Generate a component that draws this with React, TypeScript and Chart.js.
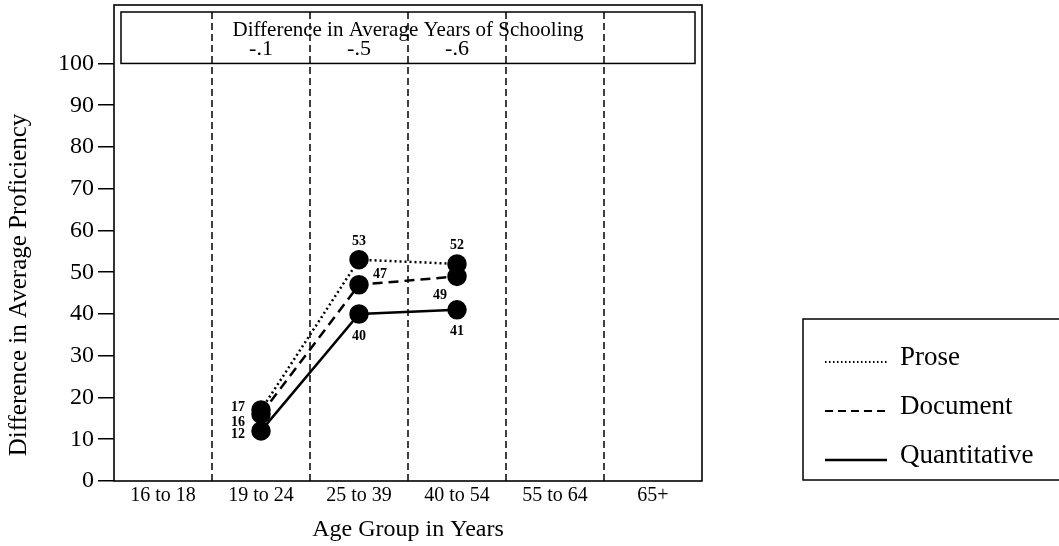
import React, { useEffect, useRef } from "react";
import { Chart, registerables } from "chart.js";

Chart.register(...registerables);

const categories = ["16 to 18", "19 to 24", "25 to 39", "40 to 54", "55 to 64", "65+"];
const prose = [null, 17, 53, 52, null, null];
const documentVals = [null, 16, 47, 49, null, null];
const quantitative = [null, 12, 40, 41, null, null];
const schoolingDiff = ["", "-.1", "-.5", "-.6", "", ""];
const yTickValues = [0, 10, 20, 30, 40, 50, 60, 70, 80, 90, 100];
const seriesNames = ["Prose", "Document", "Quantitative"];

const SERIF = "'Liberation Serif', 'Times New Roman', serif";
const dashes: number[][] = [[2, 3], [10, 6], []];

// label offsets per series and category (style only)
const labelOffsets: Record<string, [number, number, CanvasTextAlign][]> = {
  Prose: [[0, 0, "center"], [-16, -3, "right"], [0, -18, "center"], [0, -18, "center"], [0, 0, "center"], [0, 0, "center"]],
  Document: [[0, 0, "center"], [-16, 8, "right"], [14, -10, "left"], [-10, 19, "right"], [0, 0, "center"], [0, 0, "center"]],
  Quantitative: [[0, 0, "center"], [-16, 3, "right"], [0, 22, "center"], [0, 22, "center"], [0, 0, "center"], [0, 0, "center"]],
};

const decor = {
  id: "decor",
  beforeDatasetsDraw(chart: any) {
    const { ctx, chartArea: a, scales } = chart;
    const x = scales.x;
    const y = scales.y;
    ctx.save();
    ctx.strokeStyle = "#000";
    ctx.lineWidth = 1.5;
    ctx.setLineDash([7, 4]);
    for (let i = 0; i < categories.length - 1; i++) {
      const bx = (x.getPixelForValue(i) + x.getPixelForValue(i + 1)) / 2;
      ctx.beginPath();
      ctx.moveTo(bx, a.top + 7);
      ctx.lineTo(bx, a.bottom);
      ctx.stroke();
    }
    ctx.setLineDash([]);
    ctx.lineWidth = 1.6;
    ctx.strokeRect(a.left, a.top, a.right - a.left, a.bottom - a.top);
    const hb = y.getPixelForValue(100);
    ctx.lineWidth = 1.5;
    ctx.strokeRect(a.left + 7, a.top + 7, a.right - a.left - 14, hb - (a.top + 7));
    ctx.fillStyle = "#000";
    ctx.font = `21px ${SERIF}`;
    ctx.textAlign = "center";
    ctx.textBaseline = "alphabetic";
    ctx.fillText("Difference in Average Years of Schooling", (a.left + a.right) / 2, a.top + 31);
    ctx.font = `22px ${SERIF}`;
    schoolingDiff.forEach((s, i) => {
      if (!s) return;
      ctx.fillText(s, x.getPixelForValue(i), a.top + 50);
    });
    ctx.restore();
  },
  afterDatasetsDraw(chart: any) {
    const { ctx } = chart;
    ctx.save();
    ctx.fillStyle = "#000";
    ctx.font = `bold 14px ${SERIF}`;
    ctx.textBaseline = "middle";
    chart.data.datasets.forEach((ds: any, di: number) => {
      const meta = chart.getDatasetMeta(di);
      ds.data.forEach((v: number | null, i: number) => {
        if (v === null) return;
        const pt = meta.data[i];
        const [dx, dy, al] = labelOffsets[ds.label][i];
        ctx.textAlign = al;
        ctx.fillText(String(v), pt.x + dx, pt.y + dy);
      });
    });
    ctx.restore();
  },
  afterDraw(chart: any) {
    const { ctx } = chart;
    ctx.save();
    // y title
    ctx.fillStyle = "#000";
    ctx.font = `25px ${SERIF}`;
    ctx.translate(19, 285);
    ctx.rotate(-Math.PI / 2);
    ctx.textAlign = "center";
    ctx.textBaseline = "middle";
    ctx.fillText("Difference in Average Proficiency", 0, 0);
    ctx.restore();

    // legend
    ctx.save();
    ctx.strokeStyle = "#000";
    ctx.lineWidth = 1.5;
    ctx.strokeRect(803, 319, 300, 161);
    ctx.font = `27px ${SERIF}`;
    ctx.fillStyle = "#000";
    ctx.textAlign = "left";
    ctx.textBaseline = "middle";
    const ys = [358, 407, 456];
    seriesNames.forEach((n, i) => {
      ctx.lineWidth = i === 2 ? 2.5 : 2;
      ctx.setLineDash(i === 0 ? [1.5, 2.5] : i === 1 ? [8, 5] : []);
      ctx.beginPath();
      ctx.moveTo(825, ys[i] + 4);
      ctx.lineTo(887, ys[i] + 4);
      ctx.stroke();
      ctx.setLineDash([]);
      ctx.fillText(n, 900, ys[i]);
    });
    ctx.restore();
  },
};

export default function App() {
  const ref = useRef<HTMLCanvasElement | null>(null);
  useEffect(() => {
    if (!ref.current) return;
    const mk = (label: string, data: (number | null)[], i: number) => ({
      label,
      data,
      borderColor: "#000",
      backgroundColor: "#000",
      borderWidth: 2.5,
      borderDash: dashes[i],
      pointRadius: 8.5,
      pointBackgroundColor: "#000",
      pointBorderColor: "#000",
      tension: 0,
      spanGaps: false,
    });
    const chart = new Chart(ref.current, {
      type: "line",
      data: {
        labels: categories,
        datasets: [
          mk("Prose", prose, 0),
          mk("Document", documentVals, 1),
          mk("Quantitative", quantitative, 2),
        ],
      },
      plugins: [decor],
      options: {
        animation: false,
        responsive: true,
        maintainAspectRatio: false,
        layout: { autoPadding: false, padding: { top: 5, right: 357, left: 0, bottom: 0 } },
        plugins: { legend: { display: false }, tooltip: { enabled: false } },
        scales: {
          x: {
            type: "category",
            offset: true,
            grid: { display: false, drawTicks: false },
            border: { display: false },
            ticks: { color: "#000", font: { family: SERIF, size: 20 }, padding: 3, maxRotation: 0, autoSkip: false },
            title: { display: true, text: "Age Group in Years", color: "#000", font: { family: SERIF, size: 24 }, padding: { top: 0, bottom: 2 } },
            afterFit: (s: any) => { s.height = 65; s.paddingLeft = 0; s.paddingRight = 0; },
          },
          y: {
            min: 0,
            max: 114,
            grid: { drawOnChartArea: false, drawTicks: true, tickLength: 16, color: "#000", lineWidth: 1.5 },
            border: { display: false },
            ticks: { color: "#000", font: { family: SERIF, size: 24 }, padding: 4 },
            afterBuildTicks: (s: any) => { s.ticks = yTickValues.map((v) => ({ value: v })); },
            afterFit: (s: any) => { s.width = 114; s.paddingTop = 0; s.paddingBottom = 0; },
          },
        },
      } as any,
    });
    return () => chart.destroy();
  }, []);
  return (
    <div style={{ position: "absolute", left: 0, top: 0, width: 1059, height: 546, background: "#fff" }}>
      <canvas ref={ref} />
    </div>
  );
}
